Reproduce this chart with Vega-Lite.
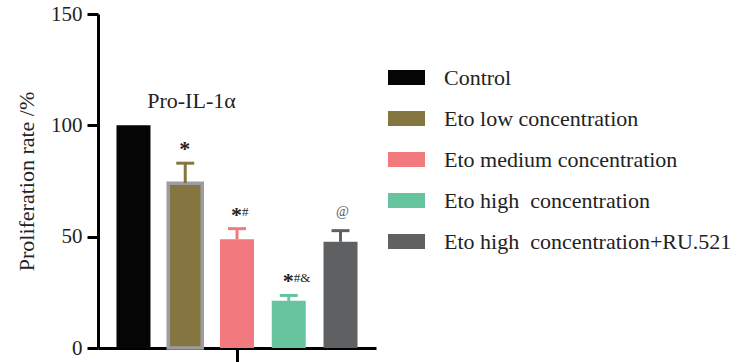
{
  "$schema": "https://vega.github.io/schema/vega-lite/v6.json",
  "autosize": "none",
  "width": 278,
  "height": 334,
  "padding": {"left": 98, "top": 14, "right": 362, "bottom": 14},
  "background": "white",
  "config": {
    "view": {"stroke": null},
    "font": "Liberation Serif",
    "text": {"font": "Liberation Serif", "color": "#222222"}
  },
  "data": {
    "values": [
      {"group": "Control", "value": 100, "upper": null, "star": "", "sup": "", "at": ""},
      {"group": "Eto low concentration", "value": 74, "upper": 83, "star": "*", "sup": "", "at": ""},
      {"group": "Eto medium concentration", "value": 48.8, "upper": 53.6, "star": "*", "sup": "#", "at": ""},
      {"group": "Eto high  concentration", "value": 21.2, "upper": 23.6, "star": "*", "sup": "#&", "at": ""},
      {"group": "Eto high  concentration+RU.521", "value": 47.7, "upper": 52.7, "star": "", "sup": "", "at": "@"}
    ]
  },
  "encoding": {
    "x": {
      "field": "group",
      "type": "nominal",
      "sort": null,
      "scale": {"paddingInner": 0.343, "paddingOuter": 0.357},
      "axis": {
        "title": null,
        "labels": false,
        "values": ["Eto medium concentration"],
        "domainWidth": 3,
        "domainColor": "#000000",
        "tickWidth": 3,
        "tickColor": "#000000",
        "tickSize": 14
      }
    }
  },
  "layer": [
    {
      "mark": {"type": "bar"},
      "encoding": {
        "y": {
          "field": "value",
          "type": "quantitative",
          "scale": {"domain": [0, 150], "nice": false},
          "axis": {
            "values": [0, 50, 100, 150],
            "title": "Proliferation rate /%",
            "titleFont": "Liberation Serif",
            "titleFontSize": 22,
            "titleFontWeight": "normal",
            "titleColor": "#222222",
            "titlePadding": 12,
            "labelFont": "Liberation Serif",
            "labelFontSize": 21,
            "labelColor": "#222222",
            "labelPadding": 5,
            "grid": false,
            "domainWidth": 3,
            "domainColor": "#000000",
            "tickWidth": 3,
            "tickColor": "#000000",
            "tickSize": 11
          }
        },
        "color": {
          "field": "group",
          "type": "nominal",
          "sort": null,
          "scale": {
            "domain": ["Control", "Eto low concentration", "Eto medium concentration", "Eto high  concentration", "Eto high  concentration+RU.521"],
            "range": ["#050505", "#857541", "#f27a7e", "#66c49e", "#5f6062"]
          },
          "legend": {
            "orient": "none",
            "legendX": 290,
            "legendY": 45,
            "title": null,
            "symbolType": "M-1,-0.4H1V0.4H-1Z",
            "symbolSize": 1369,
            "symbolStrokeWidth": 0,
            "symbolOpacity": 1,
            "labelFont": "Liberation Serif",
            "labelFontSize": 22,
            "labelColor": "#222222",
            "labelOffset": 19,
            "labelLimit": 400,
            "labelExpr": "replace(datum.label, '  ', '\u00a0 ')",
            "rowPadding": 11,
            "padding": 0
          }
        },
        "stroke": {
          "condition": {"test": "datum.group === 'Eto low concentration'", "value": "#9b9da1"},
          "value": null
        },
        "strokeWidth": {
          "condition": {"test": "datum.group === 'Eto low concentration'", "value": 3.5},
          "value": 0
        }
      }
    },
    {
      "transform": [{"filter": "datum.upper != null"}],
      "mark": {"type": "rule", "strokeWidth": 3},
      "encoding": {
        "y": {"field": "value", "type": "quantitative"},
        "y2": {"field": "upper"},
        "color": {"field": "group", "type": "nominal", "legend": null}
      }
    },
    {
      "transform": [{"filter": "datum.upper != null"}],
      "mark": {"type": "tick", "size": 18, "thickness": 3, "orient": "horizontal", "opacity": 1},
      "encoding": {
        "y": {"field": "upper", "type": "quantitative"},
        "color": {"field": "group", "type": "nominal", "legend": null}
      }
    },
    {
      "transform": [{"filter": "datum.upper != null"}],
      "mark": {"type": "text", "fontSize": 22, "fontWeight": "bold", "align": "right", "dx": 5, "dy": -7, "baseline": "alphabetic"},
      "encoding": {
        "y": {"field": "upper", "type": "quantitative"},
        "text": {"field": "star"}
      }
    },
    {
      "transform": [{"filter": "datum.upper != null"}],
      "mark": {"type": "text", "fontSize": 13, "align": "left", "dx": 5, "dy": -13, "baseline": "alphabetic"},
      "encoding": {
        "y": {"field": "upper", "type": "quantitative"},
        "text": {"field": "sup"}
      }
    },
    {
      "transform": [{"filter": "datum.upper != null"}],
      "mark": {"type": "text", "fontSize": 14, "align": "center", "dx": 2, "dy": -15, "baseline": "alphabetic", "color": "#555555"},
      "encoding": {
        "y": {"field": "upper", "type": "quantitative"},
        "text": {"field": "at"}
      }
    },
    {
      "data": {"values": [{"label": "Pro-IL-1α", "ypos": 111, "anchor": "Control"}]},
      "mark": {"type": "text", "fontSize": 22, "align": "center", "baseline": "middle", "dx": 58},
      "encoding": {
        "x": {"field": "anchor", "type": "nominal"},
        "y": {"field": "ypos", "type": "quantitative"},
        "text": {"field": "label"}
      }
    }
  ]
}
